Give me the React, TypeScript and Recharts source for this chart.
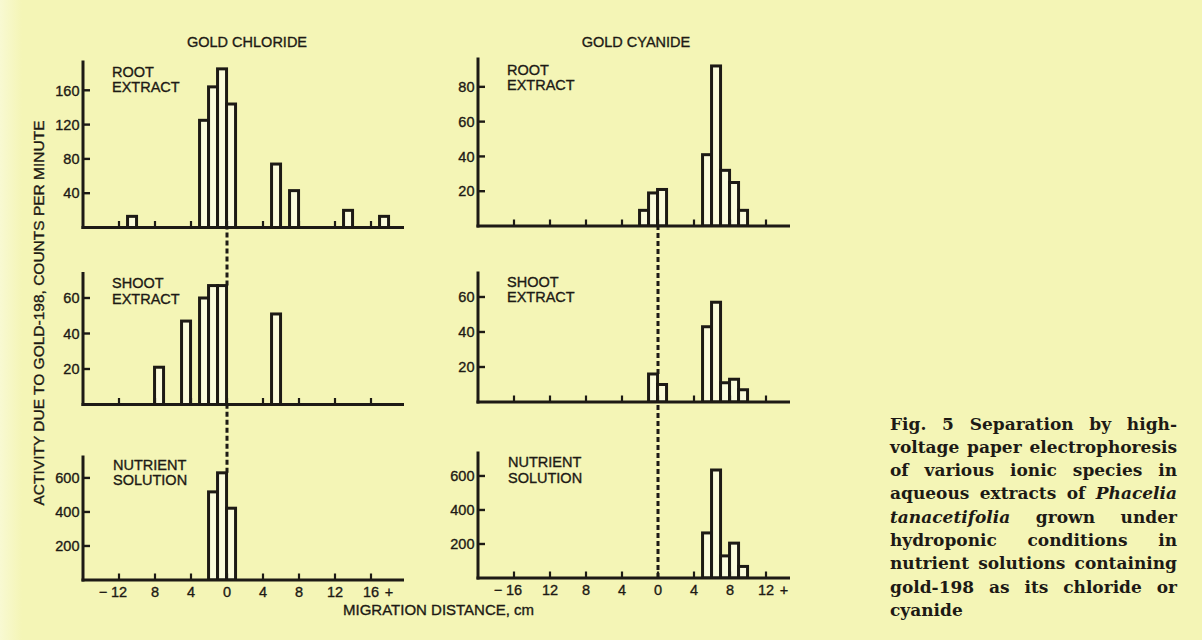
import React from 'react';
import { BarChart, Bar, XAxis, YAxis, ReferenceLine } from 'recharts';

const INK = '#1d1a15';
const PAPER = '#f4f5b6';
const BAR_FILL = '#fafbdc';
const SANS = '"Liberation Sans", Arial, sans-serif';
const SERIF = '"DejaVu Serif", "Liberation Serif", serif';
const TEXT_STROKE = 0.35;

// every bin is 1 cm wide; a bin is given by its left edge (cm from origin)
const CHLORIDE_ROOT_BINS = [-11, -3, -2, -1, 0, 5, 7, 13, 17];
const CHLORIDE_ROOT_CPM = [13, 125, 164, 185, 144, 74, 43, 20, 13];

const CHLORIDE_SHOOT_BINS = [-8, -5, -3, -2, -1, 5];
const CHLORIDE_SHOOT_CPM = [21, 47, 60, 67, 67, 51];

const CHLORIDE_NUTRIENT_BINS = [-2, -1, 0];
const CHLORIDE_NUTRIENT_CPM = [518, 630, 422];

const CYANIDE_ROOT_BINS = [-2, -1, 0, 5, 6, 7, 8, 9];
const CYANIDE_ROOT_CPM = [9, 19, 21, 41, 92, 32, 25, 9];

const CYANIDE_SHOOT_BINS = [-1, 0, 5, 6, 7, 8, 9];
const CYANIDE_SHOOT_CPM = [16, 10, 43, 57, 11, 13, 7];

const CYANIDE_NUTRIENT_BINS = [5, 6, 7, 8, 9];
const CYANIDE_NUTRIENT_CPM = [265, 635, 130, 205, 68];

const CHLORIDE_X_TICKS = [-12, -8, -4, 0, 4, 8, 12, 16];
const CYANIDE_X_TICKS = [-16, -12, -8, -4, 0, 4, 8, 12];

const ROOT_CHLORIDE_Y_TICKS = [40, 80, 120, 160];
const ROOT_CYANIDE_Y_TICKS = [20, 40, 60, 80];
const SHOOT_Y_TICKS = [20, 40, 60];
const NUTRIENT_Y_TICKS = [200, 400, 600];

const PX_PER_CM = 9;

type PanelSpec = {
  bins: number[];
  cpm: number[];
  xDomain: [number, number];
  xTicks: number[];
  yMax: number;
  yTicks: number[];
  plotLeft: number;
  plotTop: number;
  plotBottom: number;
  showXLabels: boolean;
  connectFromY?: number;
  label: string[];
};

const BinShape = (props: any) => {
  const { x, y, width, height } = props;
  if (!height || height <= 0) return null;
  const cx = x + width / 2;
  return (
    <rect
      x={cx - PX_PER_CM / 2}
      y={y}
      width={PX_PER_CM}
      height={height}
      fill={BAR_FILL}
      stroke={INK}
      strokeWidth={3}
    />
  );
};

const textProps = {
  fontSize: 14.5,
  fontFamily: SANS,
  fill: INK,
  stroke: INK,
  strokeWidth: TEXT_STROKE,
};

const YTick = (props: any) => {
  const { x, y, payload } = props;
  return (
    <g>
      <line x1={x} x2={x + 7} y1={y} y2={y} stroke={INK} strokeWidth={2.4} />
      <text x={x - 3.5} y={y} dy="0.36em" textAnchor="end" {...textProps}>
        {payload.value}
      </text>
    </g>
  );
};

function makeXTick(showLabel: boolean, first: number, last: number) {
  return (props: any) => {
    const { x, y, payload } = props;
    const v = payload.value;
    return (
      <g>
        <line x1={x} x2={x} y1={y} y2={y - 6.5} stroke={INK} strokeWidth={2.2} />
        {showLabel && (
          <text x={x} y={y + 17} textAnchor="middle" {...textProps}>
            {Math.abs(v)}
          </text>
        )}
        {showLabel && v === first && (
          <text x={x - 16} y={y + 17} textAnchor="middle" {...textProps}>
            −
          </text>
        )}
        {showLabel && v === last && (
          <text x={x + 18} y={y + 17} textAnchor="middle" {...textProps}>
            +
          </text>
        )}
      </g>
    );
  };
}

function Panel({ spec }: { spec: PanelSpec }) {
  const plotW = (spec.xDomain[1] - spec.xDomain[0]) * PX_PER_CM;
  const plotH = spec.plotBottom - spec.plotTop;
  const svgLeft = spec.plotLeft - 60;
  const svgTop = spec.connectFromY != null ? spec.connectFromY - 4 : spec.plotTop - 12;
  const width = plotW + 70;
  const height = spec.plotBottom - svgTop + 30;
  const data = spec.bins.map((b, i) => ({ x: b + 0.5, cpm: spec.cpm[i] }));
  const first = spec.xTicks[0];
  const last = spec.xTicks[spec.xTicks.length - 1];

  // dashed marker of the origin, carried down from the panel above
  let connector = null;
  if (spec.connectFromY != null) {
    const topVal = (spec.yMax * (spec.plotBottom - spec.connectFromY)) / plotH;
    const touching = spec.bins.map((b, i) => (b === -1 || b === 0 ? spec.cpm[i] : 0));
    const fromVal = Math.max(0, ...touching);
    connector = (
      <ReferenceLine
        segment={[
          { x: 0, y: fromVal },
          { x: 0, y: topVal },
        ]}
        ifOverflow="visible"
        stroke={INK}
        strokeWidth={3}
        strokeDasharray="5 3"
      />
    );
  }

  return (
    <div style={{ position: 'absolute', left: svgLeft, top: svgTop }}>
      <BarChart
        width={width}
        height={height}
        data={data}
        margin={{ top: spec.plotTop - svgTop, right: 10, bottom: 10, left: 20 }}
      >
        <XAxis
          type="number"
          dataKey="x"
          domain={spec.xDomain}
          ticks={spec.xTicks}
          interval={0}
          allowDataOverflow
          height={20}
          axisLine={{ stroke: INK, strokeWidth: 3, strokeLinecap: 'square' }}
          tickLine={false}
          tickSize={0}
          tickMargin={0}
          tick={makeXTick(spec.showXLabels, first, last)}
        />
        <YAxis
          type="number"
          domain={[0, spec.yMax]}
          ticks={spec.yTicks}
          interval={0}
          allowDataOverflow
          width={40}
          axisLine={{ stroke: INK, strokeWidth: 3, strokeLinecap: 'square' }}
          tickLine={false}
          tickSize={0}
          tickMargin={0}
          tick={YTick}
        />
        {connector}
        <Bar dataKey="cpm" barSize={PX_PER_CM} shape={BinShape} isAnimationActive={false} />
      </BarChart>
    </div>
  );
}

const CL_LEFT = 82.5;
const CY_LEFT = 478;

const PANELS: PanelSpec[] = [
  {
    bins: CHLORIDE_ROOT_BINS, cpm: CHLORIDE_ROOT_CPM, xDomain: [-16, 19.5], xTicks: CHLORIDE_X_TICKS,
    yMax: 193, yTicks: ROOT_CHLORIDE_Y_TICKS, plotLeft: CL_LEFT, plotTop: 62, plotBottom: 227.5,
    showXLabels: false, label: ['ROOT', 'EXTRACT'],
  },
  {
    bins: CHLORIDE_SHOOT_BINS, cpm: CHLORIDE_SHOOT_CPM, xDomain: [-16, 19.5], xTicks: CHLORIDE_X_TICKS,
    yMax: 73.8, yTicks: SHOOT_Y_TICKS, plotLeft: CL_LEFT, plotTop: 273, plotBottom: 404,
    showXLabels: false, connectFromY: 227.5, label: ['SHOOT', 'EXTRACT'],
  },
  {
    bins: CHLORIDE_NUTRIENT_BINS, cpm: CHLORIDE_NUTRIENT_CPM, xDomain: [-16, 19.5], xTicks: CHLORIDE_X_TICKS,
    yMax: 723, yTicks: NUTRIENT_Y_TICKS, plotLeft: CL_LEFT, plotTop: 457, plotBottom: 580,
    showXLabels: true, connectFromY: 404, label: ['NUTRIENT', 'SOLUTION'],
  },
  {
    bins: CYANIDE_ROOT_BINS, cpm: CYANIDE_ROOT_CPM, xDomain: [-20, 14.5], xTicks: CYANIDE_X_TICKS,
    yMax: 96, yTicks: ROOT_CYANIDE_Y_TICKS, plotLeft: CY_LEFT, plotTop: 59, plotBottom: 226,
    showXLabels: false, label: ['ROOT', 'EXTRACT'],
  },
  {
    bins: CYANIDE_SHOOT_BINS, cpm: CYANIDE_SHOOT_CPM, xDomain: [-20, 14.5], xTicks: CYANIDE_X_TICKS,
    yMax: 73.7, yTicks: SHOOT_Y_TICKS, plotLeft: CY_LEFT, plotTop: 273, plotBottom: 402,
    showXLabels: false, connectFromY: 226, label: ['SHOOT', 'EXTRACT'],
  },
  {
    bins: CYANIDE_NUTRIENT_BINS, cpm: CYANIDE_NUTRIENT_CPM, xDomain: [-20, 14.5], xTicks: CYANIDE_X_TICKS,
    yMax: 735, yTicks: NUTRIENT_Y_TICKS, plotLeft: CY_LEFT, plotTop: 453, plotBottom: 578,
    showXLabels: true, connectFromY: 402, label: ['NUTRIENT', 'SOLUTION'],
  },
];

// where the two-line panel names sit (first baseline)
const LABEL_POS = [
  { x: 112, y: 76.7 },
  { x: 112, y: 288.3 },
  { x: 113, y: 470 },
  { x: 507, y: 75 },
  { x: 507, y: 286.7 },
  { x: 508, y: 467.3 },
];

const CAPTION_LINES: React.ReactNode[] = [
  'Fig. 5 Separation by high-',
  'voltage paper electrophoresis',
  'of various ionic species in',
  <>aqueous extracts of <i>Phacelia</i></>,
  <><i>tanacetifolia</i> grown under</>,
  'hydroponic conditions in',
  'nutrient solutions containing',
  'gold-198 as its chloride or',
  'cyanide',
];

export default function App() {
  return (
    <div
      style={{
        position: 'absolute',
        left: 0,
        top: 0,
        width: 1202,
        height: 640,
        overflow: 'hidden',
        background: `linear-gradient(to right, #f8f9d2 0px, ${PAPER} 22px, ${PAPER} 100%)`,
      }}
    >
      <svg width={1202} height={640} style={{ position: 'absolute', left: 0, top: 0 }}>
        <g fontFamily={SANS} fill={INK} stroke={INK} strokeWidth={TEXT_STROKE}>
          <text x={247} y={47} fontSize={14.5} textAnchor="middle">GOLD CHLORIDE</text>
          <text x={636} y={47} fontSize={14.5} textAnchor="middle">GOLD CYANIDE</text>
          <text x={38} y={313} fontSize={15.5} textAnchor="middle" dy="0.36em" transform="rotate(-90 38 313)">
            ACTIVITY DUE TO GOLD-198, COUNTS PER MINUTE
          </text>
          <text x={343} y={615} fontSize={15}>MIGRATION DISTANCE, cm</text>
          {PANELS.map((p, i) => (
            <text key={i} x={LABEL_POS[i].x} y={LABEL_POS[i].y} fontSize={14.5}>
              <tspan x={LABEL_POS[i].x}>{p.label[0]}</tspan>
              <tspan x={LABEL_POS[i].x} dy={15.2}>{p.label[1]}</tspan>
            </text>
          ))}
        </g>
      </svg>
      {PANELS.map((p, i) => (
        <Panel key={i} spec={p} />
      ))}
      <div
        style={{
          position: 'absolute',
          left: 890,
          top: 412.6,
          width: 287,
          fontFamily: SERIF,
          fontWeight: 'bold',
          fontSize: 17,
          lineHeight: '23.3px',
          color: INK,
        }}
      >
        {CAPTION_LINES.map((line, i) => (
          <div
            key={i}
            style={{
              whiteSpace: 'nowrap',
              textAlign: 'justify',
              textAlignLast: i === CAPTION_LINES.length - 1 ? 'left' : 'justify',
            }}
          >
            {line}
          </div>
        ))}
      </div>
    </div>
  );
}
